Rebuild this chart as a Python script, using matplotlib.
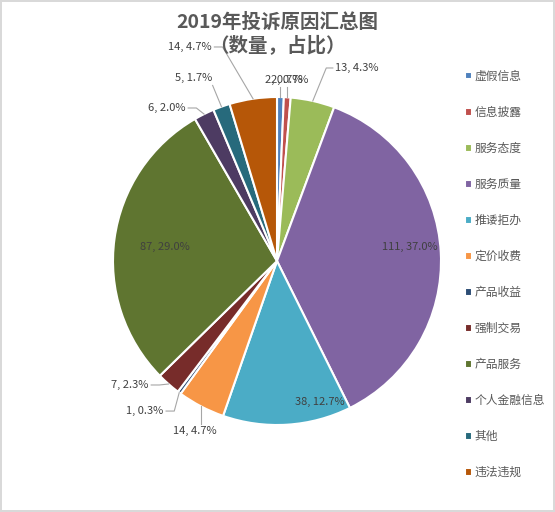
import numpy as np
import matplotlib.pyplot as plt

plt.rcParams['font.family'] = ['Noto Sans CJK SC', 'DejaVu Sans']

# data
categories = ['虚假信息', '信息披露', '服务态度', '服务质量', '推诿拒办', '定价收费',
              '产品收益', '强制交易', '产品服务', '个人金融信息', '其他', '违法违规']
counts = [2, 2, 13, 111, 38, 14, 1, 7, 87, 6, 5, 14]
colors = ['#4F81BD', '#C0504D', '#9BBB59', '#8064A2', '#4BACC6', '#F79646',
          '#2C4D75', '#772C2A', '#5F7530', '#4D3B62', '#276A7C', '#B65708']
title_lines = ['2019年投诉原因汇总图', '（数量，占比）']

# label layout: centre of each data label in pie-radius units, and which side
# of the label the leader line attaches to (None = label sits inside the slice)
label_pos = [(0.043, 1.104), (0.079, 1.104), (0.488, 1.177), (0.811, 0.085),
             (0.262, -0.860), (-0.500, -1.037), (-0.805, -0.915), (-0.896, -0.756),
             (-0.683, 0.085), (-0.671, 0.933), (-0.506, 1.116), (-0.530, 1.305)]
leader = ['bottom', 'bottom', 'left', None, None, 'top', 'right', 'right',
          None, 'right', 'bottom', 'right']

txt_color = '#404040'

fig = plt.figure(figsize=(5.55, 5.12), dpi=100, edgecolor='#D9D9D9', linewidth=1.5)
cx, cy, R = 277, 261, 164
ax = fig.add_axes([(cx - R) / 555, (512 - cy - R) / 512, 2 * R / 555, 2 * R / 512])

wedges, _ = ax.pie(counts, colors=colors, startangle=90, counterclock=False,
                   wedgeprops=dict(edgecolor='white', linewidth=1.5))
ax.set_xlim(-1, 1)
ax.set_ylim(-1, 1)

total = sum(counts)
texts = []
for v, (lx, ly) in zip(counts, label_pos):
    t = ax.text(lx, ly, f'{v}, {v / total * 100:.1f}%', ha='center', va='center',
                fontsize=8, color=txt_color)
    texts.append(t)

# leader lines
fig.canvas.draw()
inv = ax.transData.inverted()
for w, t, side in zip(wedges, texts, leader):
    if side is None:
        continue
    mid = np.deg2rad((w.theta1 + w.theta2) / 2)
    ex, ey = np.cos(mid), np.sin(mid)
    bb = t.get_window_extent().transformed(inv)
    gap = 0.015
    if side == 'left':
        px, py = bb.x0 - gap, (bb.y0 + bb.y1) / 2
        xs, ys = [px, px - 0.04, ex], [py, py, ey]
    elif side == 'right':
        px, py = bb.x1 + gap, (bb.y0 + bb.y1) / 2
        xs, ys = [px, px + 0.05, ex], [py, py, ey]
    elif side == 'bottom':
        px, py = min(max(ex, bb.x0), bb.x1), bb.y0 - gap
        xs, ys = [px, ex], [py, ey]
    else:
        px, py = min(max(ex, bb.x0), bb.x1), bb.y1 + gap
        xs, ys = [px, ex], [py, ey]
    ax.plot(xs, ys, color='#A6A6A6', lw=0.8, clip_on=False)

for i, line in enumerate(title_lines):
    fig.text(0.5, 1 - (22 + 23 * i) / 512, line, ha='center', va='center',
             fontsize=14, fontweight='bold', color='#595959')

fig.legend(wedges, categories, loc='upper left', bbox_to_anchor=(459 / 555, 1 - 64 / 512),
           frameon=False, fontsize=8.5, handlelength=0.6, handleheight=0.6,
           handletextpad=0.25, labelspacing=1.95, borderpad=0, labelcolor='#595959')

fig.savefig('out.png', dpi=100)
